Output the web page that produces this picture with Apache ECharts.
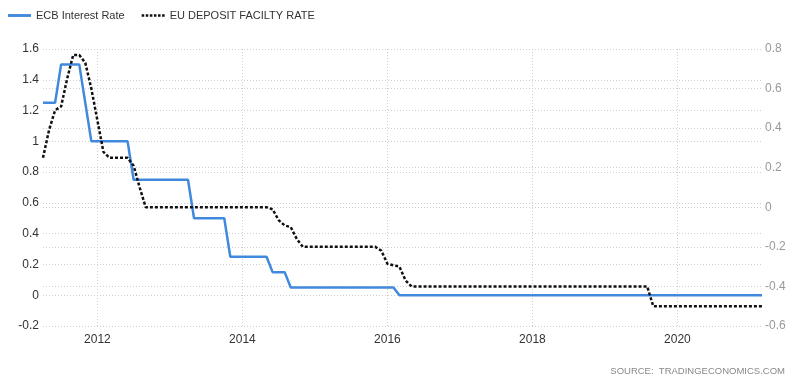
<!DOCTYPE html>
<html>
<head>
<meta charset="utf-8">
<script src="https://cdn.jsdelivr.net/npm/echarts@6/dist/echarts.min.js"></script>
<style>
html,body{margin:0;padding:0;background:#fff;}
#chart{width:800px;height:389px;}
</style>
</head>
<body>
<div id="chart"></div>
<script>
// Monthly categories: Apr 2011 .. Mar 2021
const startYear = 2011, startMonth = 4, monthCount = 120;
const months = [];
for (let k = 0; k < monthCount; k++) {
  const m = startMonth - 1 + k;
  const y = startYear + Math.floor(m / 12);
  const mm = (m % 12) + 1;
  months.push(y + '-' + (mm < 10 ? '0' + mm : mm));
}

const yearTicks = ['2012', '2014', '2016', '2018', '2020'];

const ecbRate = [
  // 2011 Apr-Dec
  1.25, 1.25, 1.25, 1.5, 1.5, 1.5, 1.5, 1.25, 1.0,
  // 2012
  1.0, 1.0, 1.0, 1.0, 1.0, 1.0, 0.75, 0.75, 0.75, 0.75, 0.75, 0.75,
  // 2013
  0.75, 0.75, 0.75, 0.75, 0.5, 0.5, 0.5, 0.5, 0.5, 0.5, 0.25, 0.25,
  // 2014
  0.25, 0.25, 0.25, 0.25, 0.25, 0.15, 0.15, 0.15, 0.05, 0.05, 0.05, 0.05,
  // 2015
  0.05, 0.05, 0.05, 0.05, 0.05, 0.05, 0.05, 0.05, 0.05, 0.05, 0.05, 0.05,
  // 2016
  0.05, 0.05, 0, 0, 0, 0, 0, 0, 0, 0, 0, 0,
  // 2017
  0, 0, 0, 0, 0, 0, 0, 0, 0, 0, 0, 0,
  // 2018
  0, 0, 0, 0, 0, 0, 0, 0, 0, 0, 0, 0,
  // 2019
  0, 0, 0, 0, 0, 0, 0, 0, 0, 0, 0, 0,
  // 2020
  0, 0, 0, 0, 0, 0, 0, 0, 0, 0, 0, 0,
  // 2021 Jan-Mar
  0, 0, 0
];

const depositRate = [
  // 2011 Apr-Dec
  0.25, 0.39, 0.49, 0.51, 0.65, 0.77, 0.77, 0.73, 0.6,
  // 2012
  0.44, 0.28, 0.25, 0.25, 0.25, 0.25, 0.21, 0.1, 0, 0, 0, 0,
  // 2013
  0, 0, 0, 0, 0, 0, 0, 0, 0, 0, 0, 0,
  // 2014
  0, 0, 0, 0, 0, -0.01, -0.065, -0.092, -0.1, -0.16, -0.2, -0.2,
  // 2015
  -0.2, -0.2, -0.2, -0.2, -0.2, -0.2, -0.2, -0.2, -0.2, -0.2, -0.2, -0.22,
  // 2016
  -0.285, -0.293, -0.3, -0.37, -0.4, -0.4, -0.4, -0.4, -0.4, -0.4, -0.4, -0.4,
  // 2017
  -0.4, -0.4, -0.4, -0.4, -0.4, -0.4, -0.4, -0.4, -0.4, -0.4, -0.4, -0.4,
  // 2018
  -0.4, -0.4, -0.4, -0.4, -0.4, -0.4, -0.4, -0.4, -0.4, -0.4, -0.4, -0.4,
  // 2019
  -0.4, -0.4, -0.4, -0.4, -0.4, -0.4, -0.4, -0.4, -0.5, -0.5, -0.5, -0.5,
  // 2020
  -0.5, -0.5, -0.5, -0.5, -0.5, -0.5, -0.5, -0.5, -0.5, -0.5, -0.5, -0.5,
  // 2021 Jan-Mar
  -0.5, -0.5, -0.5
];

const isYearTick = function (idx, val) {
  return yearTicks.indexOf(val.slice(0, 4)) >= 0 && val.slice(5) === '01';
};

const solidIcon = 'path://M0,0H24V3H0Z';
const dotIcon = 'path://M0,0h2.5v2.5h-2.5z M4,0h2.5v2.5h-2.5z M8,0h2.5v2.5h-2.5z M12,0h2.5v2.5h-2.5z M16,0h2.5v2.5h-2.5z M20,0h2.5v2.5h-2.5z';

const chart = echarts.init(document.getElementById('chart'), null, {renderer: 'canvas'});
chart.setOption({
  animation: false,
  backgroundColor: '#fff',
  textStyle: {fontFamily: 'Liberation Sans, Arial, sans-serif'},
  legend: {
    left: 8, top: 10, padding: 0,
    itemWidth: 23, itemHeight: 10, itemGap: 17,
    textStyle: {fontSize: 11, color: '#333'},
    data: [
      {name: 'ECB Interest Rate', icon: solidIcon, itemStyle: {color: '#4189dd'}},
      {name: 'EU DEPOSIT FACILTY RATE', icon: dotIcon, itemStyle: {color: '#111'}}
    ]
  },
  grid: {left: 43, right: 38, top: 49, bottom: 63, containLabel: false},
  xAxis: {
    type: 'category',
    data: months,
    boundaryGap: false,
    axisLine: {show: false},
    axisTick: {show: false},
    axisLabel: {
      interval: isYearTick,
      formatter: function (v) { return v.slice(0, 4); },
      color: '#333', fontSize: 12, margin: 8
    },
    splitLine: {
      show: true,
      interval: isYearTick,
      lineStyle: {color: '#d0d0d0', type: [1, 2], width: 1}
    }
  },
  yAxis: [
    {
      type: 'value', min: -0.2, max: 1.6, interval: 0.2, position: 'left',
      axisLine: {show: false}, axisTick: {show: false},
      axisLabel: {color: '#333', fontSize: 12, margin: 4},
      splitLine: {lineStyle: {color: '#cfcfcf', type: [1, 2], width: 1}}
    },
    {
      type: 'value', min: -0.6, max: 0.8, interval: 0.2, position: 'right',
      axisLine: {show: false}, axisTick: {show: false},
      axisLabel: {color: '#999', fontSize: 12, margin: 3},
      splitLine: {show: true, lineStyle: {color: '#cfcfcf', type: [1, 2], width: 1}}
    }
  ],
  series: [
    {
      name: 'ECB Interest Rate', type: 'line', yAxisIndex: 0,
      data: ecbRate, showSymbol: false, symbol: 'none',
      lineStyle: {color: '#4189dd', width: 2.5},
      itemStyle: {color: '#4189dd'}, z: 3
    },
    {
      name: 'EU DEPOSIT FACILTY RATE', type: 'line', yAxisIndex: 1,
      data: depositRate, showSymbol: false, symbol: 'none',
      lineStyle: {color: '#111', width: 2.5, type: [3, 2]},
      itemStyle: {color: '#111'}, z: 4
    }
  ],
  graphic: [{
    type: 'text', right: 15, top: 366,
    style: {text: 'SOURCE:  TRADINGECONOMICS.COM', fill: '#888', fontSize: 9.5,
      fontFamily: 'Liberation Sans, Arial, sans-serif'}
  }]
});
</script>
</body>
</html>
